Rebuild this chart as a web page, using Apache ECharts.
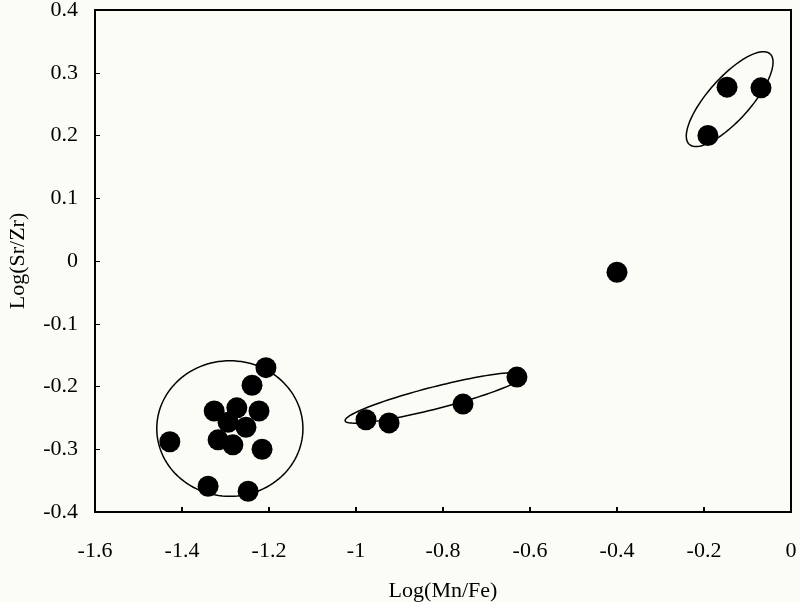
<!DOCTYPE html>
<html>
<head>
<meta charset="utf-8">
<script src="https://cdn.jsdelivr.net/npm/echarts@6/dist/echarts.min.js"></script>
<style>html,body{margin:0;padding:0;background:#fcfcf6;}#c{width:800px;height:602px;}</style>
</head>
<body>
<div id="c"></div>
<script>
// Data: [Log(Mn/Fe), Log(Sr/Zr)]
var clusterA = [
  [-1.428, -0.288], [-1.340, -0.359], [-1.248, -0.367], [-1.207, -0.170],
  [-1.239, -0.198], [-1.223, -0.239], [-1.216, -0.300],
  [-1.326, -0.239], [-1.274, -0.234], [-1.294, -0.257], [-1.253, -0.265],
  [-1.317, -0.285], [-1.283, -0.293]
];
var clusterB = [[-0.977, -0.253], [-0.924, -0.258], [-0.754, -0.228], [-0.630, -0.185]];
var single = [[-0.400, -0.018]];
var clusterC = [[-0.147, 0.277], [-0.069, 0.276], [-0.191, 0.200]];
var xTicks = {min: -1.6, max: 0, interval: 0.2};
var yTicks = {min: -0.4, max: 0.4, interval: 0.1};
// Ellipses: center, semi-axis vector A, semi-axis vector B (data units)
var ellipses = [
  [-1.290, -0.267, 0.168, 0, 0, 0.108],
  [-0.818, -0.218, 0.207, 0.0367, -0.00626, 0.0170],
  [-0.141, 0.258, 0.0930, 0.0720, 0.0360, -0.0230]
];

var font = 'Liberation Serif';
var chart = echarts.init(document.getElementById('c'));
chart.setOption({
  backgroundColor: '#fcfcf6',
  animation: false,
  grid: {left: 95, right: 9, top: 10, bottom: 90, containLabel: false, outerBoundsMode: 'none', show: true, borderColor: '#000', borderWidth: 2},
  xAxis: {
    type: 'value', min: xTicks.min, max: xTicks.max, interval: xTicks.interval,
    name: 'Log(Mn/Fe)', nameLocation: 'middle', nameGap: 68,
    nameTextStyle: {fontFamily: font, fontSize: 22, color: '#000'},
    axisLine: {show: true, onZero: false, lineStyle: {color: '#000', width: 2}},
    axisTick: {show: true, inside: true, length: 5, lineStyle: {color: '#000', width: 2}},
    axisLabel: {fontFamily: font, fontSize: 22, color: '#000', margin: 28},
    splitLine: {show: false}
  },
  yAxis: {
    type: 'value', min: yTicks.min, max: yTicks.max, interval: yTicks.interval,
    name: 'Log(Sr/Zr)', nameLocation: 'middle', nameGap: 66,
    nameTextStyle: {fontFamily: font, fontSize: 22, color: '#000'},
    axisLine: {show: true, onZero: false, lineStyle: {color: '#000', width: 2}},
    axisTick: {show: true, inside: true, length: 5, lineStyle: {color: '#000', width: 1}},
    axisLabel: {fontFamily: font, fontSize: 22, color: '#000', margin: 17},
    splitLine: {show: false}
  },
  series: [
    {
      type: 'custom',
      data: ellipses,
      renderItem: function (params, api) {
        var cx = api.value(0), cy = api.value(1), ax = api.value(2), ay = api.value(3), bx = api.value(4), by = api.value(5);
        var pts = [];
        for (var i = 0; i <= 120; i++) {
          var t = i / 120 * Math.PI * 2;
          pts.push(api.coord([cx + ax * Math.cos(t) + bx * Math.sin(t), cy + ay * Math.cos(t) + by * Math.sin(t)]));
        }
        return {type: 'polyline', shape: {points: pts}, style: {stroke: '#000', lineWidth: 1.5, fill: null}};
      },
      z: 1
    },
    {type: 'scatter', data: clusterA, symbolSize: 21, itemStyle: {color: '#000', opacity: 1}, z: 3},
    {type: 'scatter', data: clusterB, symbolSize: 21, itemStyle: {color: '#000', opacity: 1}, z: 3},
    {type: 'scatter', data: single, symbolSize: 21, itemStyle: {color: '#000', opacity: 1}, z: 3},
    {type: 'scatter', data: clusterC, symbolSize: 21, itemStyle: {color: '#000', opacity: 1}, z: 3}
  ]
});
</script>
</body>
</html>
